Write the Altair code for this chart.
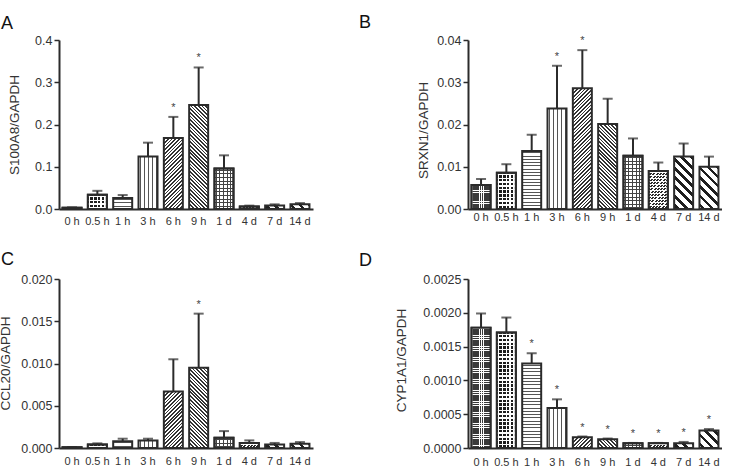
import math
import altair as alt
import pandas as pd

# ---- data -------------------------------------------------------------
times = ["0 h", "0.5 h", "1 h", "3 h", "6 h", "9 h", "1 d", "4 d", "7 d", "14 d"]
panel_letters = ["A", "B", "C", "D"]
gene_titles = ["S100A8/GAPDH", "SRXN1/GAPDH", "CCL20/GAPDH", "CYP1A1/GAPDH"]

s100a8_mean = [0.003, 0.034, 0.026, 0.124, 0.168, 0.246, 0.096, 0.006, 0.008, 0.011]
s100a8_sem = [0.001, 0.009, 0.007, 0.033, 0.050, 0.089, 0.031, 0.002, 0.003, 0.003]
s100a8_sig = ["", "", "", "", "*", "*", "", "", "", ""]

srxn1_mean = [0.0057, 0.0086, 0.0137, 0.0238, 0.0286, 0.0201, 0.0126, 0.0090, 0.0124, 0.0100]
srxn1_sem = [0.0014, 0.0020, 0.0039, 0.0101, 0.0090, 0.0060, 0.0041, 0.0020, 0.0031, 0.0024]
srxn1_sig = ["", "", "", "*", "*", "", "", "", "", ""]

ccl20_mean = [0.0001, 0.0004, 0.0008, 0.0009, 0.0067, 0.0095, 0.0012, 0.0006, 0.0004, 0.0005]
ccl20_sem = [0.00002, 0.00015, 0.0003, 0.0002, 0.0038, 0.0064, 0.0008, 0.0003, 0.0002, 0.0002]
ccl20_sig = ["", "", "", "", "", "*", "", "", "", ""]

cyp1a1_mean = [0.00178, 0.00171, 0.00125, 0.00059, 0.00016, 0.00013, 0.00007, 0.00007, 0.00007, 0.00026]
cyp1a1_sem = [0.00021, 0.00022, 0.00015, 0.00013, 0.00001, 0.00001, 0.000005, 0.000005, 0.00002, 0.00002]
cyp1a1_sig = ["", "", "*", "*", "*", "*", "*", "*", "*", "*"]

s100a8_ticks = [0.0, 0.1, 0.2, 0.3, 0.4]
srxn1_ticks = [0.0, 0.01, 0.02, 0.03, 0.04]
ccl20_ticks = [0.0, 0.005, 0.010, 0.015, 0.020]
cyp1a1_ticks = [0.0, 0.0005, 0.0010, 0.0015, 0.0020, 0.0025]

# ---- styling ----------------------------------------------------------
FONT = "Liberation Sans"
INK = "#2b2b2b"
TEXT = "#333333"
W, H = 254, 169
PAD_IN, PAD_OUT = 0.25, 0.14
STEP = W / (len(times) - PAD_IN + 2 * PAD_OUT)
BAR_W = STEP * (1 - PAD_IN)
CLEAR = "rgba(255,255,255,0)"

HORZ = (0.0, 1.0)
VERT = (1.0, 0.0)
R2 = 1 / math.sqrt(2)
RISE = (R2, R2)    # normal of "/" hatching
FALL = (R2, -R2)   # normal of "\" hatching


def stripe_fill(h, normal, period, lw, ink, paper):
    """Linear gradient with hard stops that draws parallel hatch lines
    on a bar of width BAR_W and height h (pixels)."""
    w = BAR_W
    h = max(h, 0.6)
    c, s = normal
    corners = [(0.0, 0.0), (w, 0.0), (0.0, h), (w, h)]
    proj = [x * c + y * s for x, y in corners]
    k0 = min(range(4), key=lambda k: proj[k])
    span = max(proj) - proj[k0]
    x1, y1 = corners[k0][0] / w, corners[k0][1] / h
    den = (w * c) ** 2 + (h * s) ** 2
    x2 = x1 + span * w * c / den
    y2 = y1 + span * h * s / den
    stops = [(0.0, paper)]
    pos = (period - lw) / 2
    while pos < span:
        a = pos / span
        b = min((pos + lw) / span, 1.0)
        stops += [(a, paper), (a, ink), (b, ink), (b, paper)]
        pos += period
    stops.append((1.0, paper))
    return {
        "gradient": "linear",
        "x1": round(x1, 5), "y1": round(y1, 5),
        "x2": round(x2, 5), "y2": round(y2, 5),
        "stops": [{"offset": round(o, 5), "color": col} for o, col in stops],
    }


def fills_for(idx, h):
    """Stacked fills (bottom to top) giving each time point its hatch."""
    if idx == 0:   # fine stipple
        return [stripe_fill(h, VERT, 2.2, 0.55, "#ffffff", "#3a3a3a"),
                stripe_fill(h, HORZ, 2.2, 0.55, "#ffffff", CLEAR)]
    if idx == 1:   # coarse check
        return [stripe_fill(h, VERT, 3.8, 1.4, "#ffffff", "#1e1e1e"),
                stripe_fill(h, HORZ, 3.8, 1.4, "#ffffff", CLEAR)]
    if idx == 2:
        return [stripe_fill(h, HORZ, 3.3, 1.0, "#555555", "#ffffff")]
    if idx == 3:
        return [stripe_fill(h, VERT, 4.0, 1.0, "#555555", "#ffffff")]
    if idx == 4:
        return [stripe_fill(h, RISE, 2.6, 1.2, "#333333", "#ffffff")]
    if idx == 5:
        return [stripe_fill(h, FALL, 2.6, 1.2, "#333333", "#ffffff")]
    if idx == 6:
        return [stripe_fill(h, VERT, 3.6, 1.0, "#444444", "#ffffff"),
                stripe_fill(h, HORZ, 3.6, 1.0, "#444444", CLEAR)]
    if idx == 7:
        return [stripe_fill(h, RISE, 2.3, 1.4, "#2a2a2a", "#ffffff"),
                stripe_fill(h, HORZ, 3.0, 0.6, "#ffffff", CLEAR)]
    if idx == 8:
        return [stripe_fill(h, FALL, 6.5, 2.8, "#1e1e1e", "#ffffff")]
    return [stripe_fill(h, FALL, 6.5, 2.4, "#1e1e1e", "#ffffff")]


def panel(letter, title, mean, sem, sig, ticks, fmt, letter_pos, title_pos, lab_pad):
    ymax = ticks[-1]
    df = pd.DataFrame({
        "time": times,
        "mean": mean,
        "top": [m + e for m, e in zip(mean, sem)],
        "star": sig,
    })
    base = alt.Chart(df)
    x = alt.X(
        "time:N", sort=times,
        scale=alt.Scale(paddingInner=PAD_IN, paddingOuter=PAD_OUT),
        axis=alt.Axis(title=None, labelAngle=0, ticks=False, tickSize=0,
                      labelPadding=lab_pad, labelFontSize=11, labelColor=TEXT,
                      domainColor=INK, domainWidth=2),
    )
    yscale = alt.Scale(domain=[0, ymax], nice=False, zero=True)
    yaxis = alt.Axis(
        title=title, values=ticks, format=fmt, grid=False,
        tickSize=5, tickWidth=1.5, tickColor=INK, domainColor=INK, domainWidth=2,
        labelPadding=2, labelFontSize=12.5, labelColor=TEXT,
        titleFontSize=13.5, titleFontWeight="normal", titleColor=TEXT,
        titleX=title_pos[0], titleY=title_pos[1], titleBaseline="middle",
        titleAngle=270,
    )
    y_mean = alt.Y("mean:Q", scale=yscale, axis=yaxis)
    y_top = alt.Y("top:Q", scale=yscale, axis=yaxis)

    layers = [
        base.mark_rule(color=INK, strokeWidth=2).encode(x=x, y=y_mean, y2="top:Q"),
        base.mark_tick(color=INK, size=10, thickness=2).encode(x=x, y=y_top),
    ]
    for i, t in enumerate(times):
        h = mean[i] / ymax * H
        for f in fills_for(i, h):
            layers.append(
                base.transform_filter(alt.datum.time == t)
                .mark_bar(fill=f, stroke=INK, strokeWidth=2)
                .encode(x=x, y=y_mean)
            )
    layers.append(
        base.mark_text(font=FONT, fontSize=11, color="#444444", dy=-6,
                       baseline="alphabetic")
        .encode(x=x, y=y_top, text="star:N")
    )
    layers.append(
        alt.Chart(pd.DataFrame({"letter": [letter]}))
        .mark_text(font=FONT, fontSize=18, color="#111111", align="left",
                   baseline="alphabetic")
        .encode(x=alt.value(letter_pos[0]), y=alt.value(letter_pos[1]),
                text="letter:N")
    )
    return alt.layer(*layers).properties(width=W, height=H)


pA = panel(panel_letters[0], gene_titles[0], s100a8_mean, s100a8_sem, s100a8_sig,
           s100a8_ticks, ".1f", (-58, -11), (-45, 84.5), 6.5)
pB = panel(panel_letters[1], gene_titles[1], srxn1_mean, srxn1_sem, srxn1_sig,
           srxn1_ticks, ".2f", (-109, -12), (-45, 90), 2.5)
pC = panel(panel_letters[2], gene_titles[2], ccl20_mean, ccl20_sem, ccl20_sig,
           ccl20_ticks, ".3f", (-58, -14), (-54, 84), 7.5)
pD = panel(panel_letters[3], gene_titles[3], cyp1a1_mean, cyp1a1_sem, cyp1a1_sig,
           cyp1a1_ticks, ".4f", (-109, -13), (-67, 81), 8)

chart = (
    alt.concat(pA, pB, pC, pD, columns=2,
               spacing={"row": 70, "column": 155}, bounds="flush")
    .properties(padding={"left": -2, "top": 14, "right": 0, "bottom": 0},
                background="white")
    .configure_view(stroke=None)
    .configure_axis(labelFont=FONT, titleFont=FONT)
    .configure_text(font=FONT)
)

chart.save("out.html", embed_options={"renderer": "svg", "actions": False})
